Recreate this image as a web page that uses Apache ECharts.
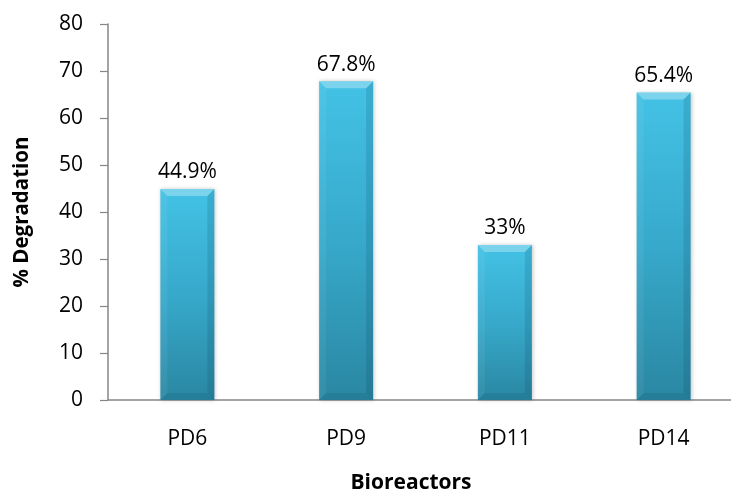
<!DOCTYPE html>
<html>
<head>
<meta charset="utf-8">
<script src="https://cdn.jsdelivr.net/npm/echarts@6/dist/echarts.min.js"></script>
<style>
  html, body { margin: 0; padding: 0; background: #fff; }
  /* the plot runs a little past the right edge, so the canvas is clipped */
  #chart { width: 731px; height: 499px; overflow: hidden; position: relative; }
</style>
</head>
<body>
<div id="chart"></div>
<script>
// Bioreactor degradation results
const categories = ['PD6', 'PD9', 'PD11', 'PD14'];
const degradation = [44.9, 67.8, 33, 65.4];
const valueLabels = ['44.9%', '67.8%', '33%', '65.4%'];

const FONT = '"Open Sans", "Noto Sans", sans-serif';
const BAR_RATIO = 0.34;
const BEVEL = 7;

const chart = echarts.init(document.getElementById('chart'), null, {
  renderer: 'canvas', width: 743, height: 499
});

// bevelled faces drawn over each bar
function renderBevel(params, api) {
  const idx = api.value(0);
  const top = api.coord([idx, api.value(1)]);
  const base = api.coord([idx, 0]);
  const w = api.size([1, 0])[0] * BAR_RATIO;
  const x0 = top[0] - w / 2, x1 = top[0] + w / 2;
  const y0 = top[1], yb = base[1];
  const b = Math.min(BEVEL, (yb - y0) / 2);
  const poly = (pts, fill) => ({ type: 'polygon', shape: { points: pts }, style: { fill: fill }, silent: true });
  return {
    type: 'group',
    children: [
      poly([[x0, y0], [x1, y0], [x1 - b, y0 + b], [x0 + b, y0 + b]], 'rgba(255,255,255,0.30)'),
      poly([[x0, y0], [x0 + b, y0 + b], [x0 + b, yb - b], [x0, yb]], 'rgba(255,255,255,0.06)'),
      poly([[x1, y0], [x1, yb], [x1 - b, yb - b], [x1 - b, y0 + b]], 'rgba(0,40,60,0.13)'),
      poly([[x0, yb], [x1, yb], [x1 - b, yb - b], [x0 + b, yb - b]], 'rgba(0,40,60,0.10)')
    ]
  };
}

chart.setOption({
  backgroundColor: '#ffffff',
  animation: false,
  grid: { left: 108, right: 0, top: 24, bottom: 95.5, containLabel: false },
  xAxis: {
    type: 'category',
    data: categories,
    name: 'Bioreactors',
    nameLocation: 'middle',
    nameGap: 73,
    nameTextStyle: { fontFamily: FONT, fontWeight: 'bold', fontSize: 21, color: '#000', padding: [0, 29, 0, 0] },
    axisLine: { lineStyle: { color: '#868686', width: 1.5 } },
    axisTick: { show: false },
    axisLabel: { fontFamily: FONT, fontSize: 21, color: '#000', margin: 29 }
  },
  yAxis: {
    type: 'value',
    min: 0,
    max: 80,
    interval: 10,
    name: '% Degradation',
    nameLocation: 'middle',
    nameGap: 75,
    nameRotate: 90,
    nameTextStyle: { fontFamily: FONT, fontWeight: 'bold', fontSize: 20.5, color: '#000' },
    axisLine: { show: true, lineStyle: { color: '#868686', width: 1.5 } },
    axisTick: { show: true, length: 8, lineStyle: { color: '#868686', width: 1.2 } },
    splitLine: { show: false },
    axisLabel: { fontFamily: FONT, fontSize: 21, color: '#000', margin: 25 }
  },
  series: [{
    type: 'bar',
    data: degradation,
    barWidth: (BAR_RATIO * 100) + '%',
    itemStyle: {
      color: new echarts.graphic.LinearGradient(0, 0, 0, 1, [
        { offset: 0, color: '#43c2e5' },
        { offset: 0.5, color: '#37a9cb' },
        { offset: 1, color: '#2a87a2' }
      ]),
      shadowColor: 'rgba(0,0,0,0.22)',
      shadowBlur: 4,
      shadowOffsetX: 1,
      shadowOffsetY: 0
    },
    label: {
      show: true,
      position: 'top',
      distance: 6,
      fontFamily: FONT,
      fontSize: 21,
      color: '#000',
      formatter: p => valueLabels[p.dataIndex]
    }
  }, {
    type: 'custom',
    silent: true,
    z: 3,
    renderItem: renderBevel,
    data: degradation.map((v, i) => [i, v])
  }]
});
</script>
</body>
</html>
